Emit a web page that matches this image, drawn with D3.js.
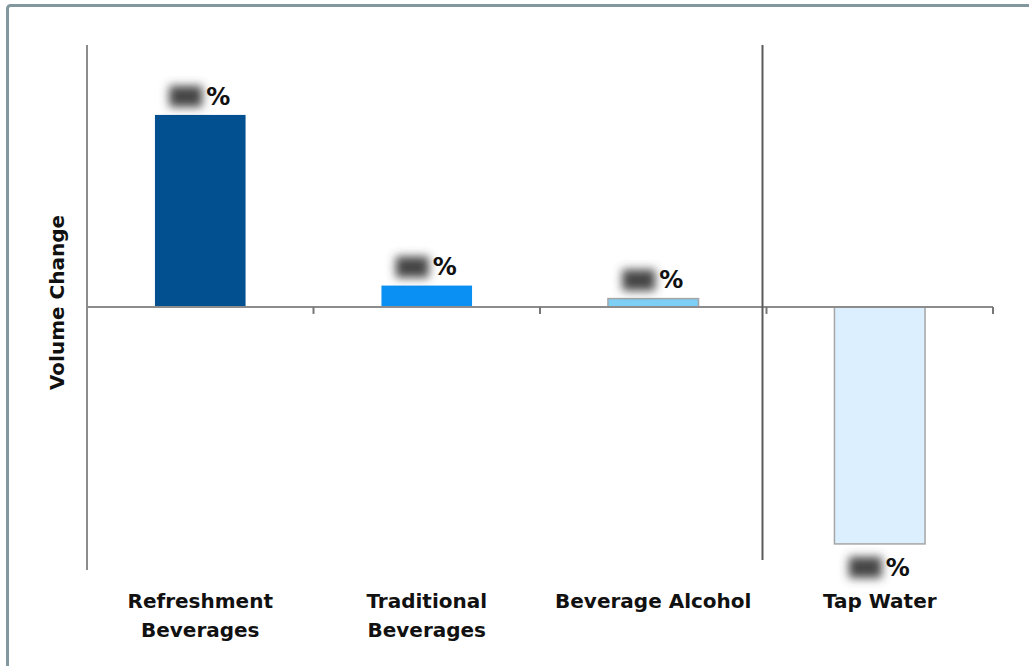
<!DOCTYPE html>
<html>
<head>
<meta charset="utf-8">
<script src="https://cdn.jsdelivr.net/npm/d3@7/dist/d3.min.js"></script>
<style>
  html, body { margin: 0; padding: 0; background: #fff; }
  svg { display: block; }
</style>
</head>
<body>
<svg id="chart" width="1029" height="666"></svg>
<script>
// ---- data ----
const categories = ["Refreshment Beverages", "Traditional Beverages", "Beverage Alcohol", "Tap Water"];
const categoryLines = [["Refreshment", "Beverages"], ["Traditional", "Beverages"], ["Beverage Alcohol"], ["Tap Water"]];
const values = [8.1, 0.9, 0.35, -10.0];   // estimated volume change (%), actual numbers obscured
const barColors = ["#02508f", "#0a90f2", "#7dcff6", "#dcefff"];
const yDomain = [-11.1, 11.05];
const yTitle = "Volume Change";

// ---- layout ----
const svg = d3.select("#chart");
const W = 1029, H = 666;
const x0 = 87, x1 = 993, yTop = 45, yBot = 570;

// frame
svg.append("rect")
  .attr("x", 7.5).attr("y", 5.5)
  .attr("width", W + 20).attr("height", H + 20)
  .attr("rx", 3)
  .attr("fill", "none").attr("stroke", "#82979e").attr("stroke-width", 3);

const x = d3.scaleBand().domain(categories).range([x0, x1]).paddingInner(0.6).paddingOuter(0.3);
const y = d3.scaleLinear().domain(yDomain).range([yBot, yTop]);

const defs = svg.append("defs");
defs.append("filter").attr("id", "blur").attr("x", "-60%").attr("y", "-60%").attr("width", "220%").attr("height", "220%")
  .append("feGaussianBlur").attr("stdDeviation", 5);

// bars
svg.selectAll("rect.bar").data(categories).enter().append("rect")
  .attr("class", "bar")
  .attr("x", d => x(d))
  .attr("width", x.bandwidth())
  .attr("y", (d, i) => y(Math.max(0, values[i])))
  .attr("height", (d, i) => Math.abs(y(values[i]) - y(0)))
  .attr("fill", (d, i) => barColors[i])
  .attr("stroke", (d, i) => i >= 2 ? "#a6a6a6" : "none")
  .attr("stroke-width", 1.5);

// y axis line
svg.append("line").attr("x1", x0).attr("x2", x0).attr("y1", yTop).attr("y2", yBot)
  .attr("stroke", "#8c8c8c").attr("stroke-width", 2);

// zero axis with ticks between categories
const xAxis = d3.axisBottom(x).tickSize(0).tickFormat("");
const gx = svg.append("g").attr("transform", `translate(0,${y(0)})`).call(xAxis);
gx.select(".domain").attr("stroke", "#8c8c8c").attr("stroke-width", 2).attr("d", `M${x0},0H${x1}`);
const bounds = [1, 2, 3, 4].map(i => x0 + i * x.step());
gx.selectAll("line.sep").data(bounds).enter().append("line")
  .attr("class", "sep")
  .attr("x1", d => d).attr("x2", d => d).attr("y1", 0).attr("y2", 7)
  .attr("stroke", "#777").attr("stroke-width", 2);

// separator before tap water
const sepX = x0 + 3 * x.step() - 4;
svg.append("line").attr("x1", sepX).attr("x2", sepX).attr("y1", yTop).attr("y2", 560)
  .attr("stroke", "#5a5a5a").attr("stroke-width", 2);

// value labels (numbers obscured) + %
categories.forEach((c, i) => {
  const cx = x(c) + x.bandwidth() / 2;
  const v = values[i];
  const ly = v >= 0 ? y(v) - 19 : y(v) + 23;
  svg.append("rect")
    .attr("x", cx - 31).attr("y", ly - 10)
    .attr("width", 33).attr("height", 21)
    .attr("fill", "#454545")
    .attr("filter", "url(#blur)");
  svg.append("text")
    .attr("x", cx + 6).attr("y", ly)
    .attr("dy", "0.36em")
    .attr("font-family", "DejaVu Sans, Verdana, sans-serif")
    .attr("font-weight", "bold")
    .attr("font-size", 24)
    .attr("fill", "#111")
    .text("%");
});

// category labels
categories.forEach((c, i) => {
  const cx = x(c) + x.bandwidth() / 2;
  const t = svg.append("text")
    .attr("x", cx).attr("y", 608)
    .attr("text-anchor", "middle")
    .attr("font-family", "DejaVu Sans, Verdana, sans-serif")
    .attr("font-weight", "bold")
    .attr("font-size", 20)
    .attr("fill", "#111");
  categoryLines[i].forEach((ln, j) => {
    t.append("tspan").attr("x", cx).attr("dy", j === 0 ? 0 : 29).text(ln);
  });
});

// y title
svg.append("text")
  .attr("transform", `translate(64,${(yTop + yBot) / 2 - 5}) rotate(-90)`)
  .attr("text-anchor", "middle")
  .attr("font-family", "DejaVu Sans, Verdana, sans-serif")
  .attr("font-weight", "bold")
  .attr("font-size", 20)
  .attr("fill", "#111")
  .text(yTitle);
</script>
</body>
</html>
